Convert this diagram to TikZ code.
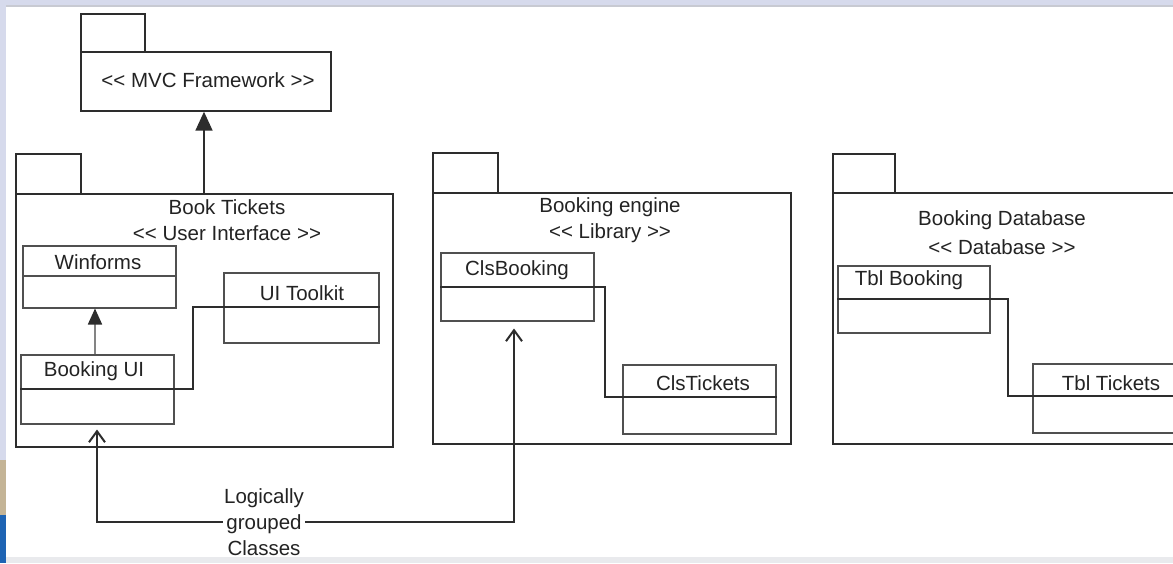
\documentclass[tikz,border=0pt]{standalone}
\usepackage{fontspec}
\setmainfont{Liberation Sans}
\usetikzlibrary{arrows.meta}
\definecolor{frameblue}{RGB}{214,218,236}
\definecolor{framegray}{RGB}{200,202,210}
\definecolor{tan}{RGB}{196,180,150}
\definecolor{deepblue}{RGB}{30,100,180}
\definecolor{ln}{RGB}{45,45,45}
\definecolor{clsln}{RGB}{80,80,80}
\definecolor{txt}{RGB}{35,35,35}
\newcommand{\stl}{<{}<}
\newcommand{\stg}{>{}>}
\begin{document}
\begin{tikzpicture}[x=1pt,y=-1pt,
  pkg/.style={draw=ln, line width=1.7pt, rectangle, anchor=north west, inner sep=0pt, fill=white},
  cls/.style={draw=clsln, line width=1.5pt, rectangle, anchor=north west, inner sep=0pt},
  divider/.style={draw=clsln, line width=1.3pt},
  lbl/.style={text=txt, inner sep=1pt, font=\fontsize{20.5}{26}\selectfont},
  conn/.style={draw=ln, line width=1.7pt},
  gen/.style={draw=ln, line width=1.7pt, -{Triangle[width=17pt,length=19pt,color=ln]}},
  dep/.style={draw=ln, line width=1.7pt, -{Straight Barb[width=16pt,length=11pt,line width=2pt]}}
]
\useasboundingbox (0,0) rectangle (1173,563);
\clip (0,0) rectangle (1173,563);
% frame of the screenshot
\fill[white] (0,0) rectangle (1173,563);
\fill[frameblue] (0,0) rectangle (1173,5);
\fill[framegray] (6,5) rectangle (1173,7);
\fill[frameblue] (0,0) rectangle (6,460);
\fill[tan] (0,460) rectangle (6,515);
\fill[deepblue] (0,515) rectangle (6,563);
\fill[framegray!40] (6,557) rectangle (1173,563);

% MVC Framework package
\node[pkg, minimum width=64pt, minimum height=39pt] (mvctab) at (80,13) {};
\node[pkg, minimum width=250pt, minimum height=59pt] (mvc) at (80,51) {};
\node[lbl] (mvct) at (208,80) {\stl{} MVC Framework \stg};

% Book Tickets package
\node[pkg, minimum width=65pt, minimum height=40pt] (bttab) at (15,153) {};
\node[pkg, minimum width=377pt, minimum height=253pt] (bt) at (15,193) {};
\node[lbl] (btt1) at (227,207) {Book Tickets};
\node[lbl] (btt2) at (227,233) {\stl{} User Interface \stg};

% Winforms
\node[cls, minimum width=153pt, minimum height=62pt] (wf) at (22,245) {};
\draw[divider] (wf.west |- 0,276) -- (wf.east |- 0,276);
\node[lbl] (wft) at (98,262) {Winforms};

% UI Toolkit
\node[cls, minimum width=155pt, minimum height=70pt] (uit) at (223,272) {};
\node[lbl] (uitt) at (302,293) {UI Toolkit};

% Booking UI
\node[cls, minimum width=153pt, minimum height=69pt] (bui) at (20,354) {};
\node[lbl] (buit) at (94,371) {Booking UI};

% connector Booking UI -- UI Toolkit (also divider lines)
\coordinate (c1) at (193,389);
\coordinate (c2) at (193,307);
\draw[conn] (bui.west |- c1) -- (c1) -- (c2) -- (uit.east |- c2);

% Booking UI -> Winforms generalisation
\draw[gen, draw=clsln!70, -{Triangle[width=14pt,length=16pt,color=ln]}] (bui.north -| 95,0) -- (wf.south -| 95,0);

% Book Tickets -> MVC
\draw[gen] (bt.north -| 204,0) -- (mvc.south -| 204,0);

% Booking engine package
\node[pkg, minimum width=65pt, minimum height=40pt] (betab) at (432,152) {};
\node[pkg, minimum width=358pt, minimum height=251pt] (be) at (432,192) {};
\node[lbl] (bet1) at (610,207) {Booking engine};
\node[lbl] (bet2) at (610,233) {\stl{} Library \stg};

% ClsBooking
\node[cls, minimum width=153pt, minimum height=68pt] (cb) at (440,252) {};
\node[lbl] (cbt) at (517,270) {ClsBooking};
% ClsTickets
\node[cls, minimum width=153pt, minimum height=69pt] (ct) at (622,364) {};
\node[lbl] (ctt) at (703,383) {ClsTickets};
\coordinate (c3) at (605,287);
\coordinate (c4) at (605,397);
\draw[conn] (cb.west |- c3) -- (c3) -- (c4) -- (ct.east |- c4);

% Booking Database package
\node[pkg, minimum width=62pt, minimum height=39pt] (bdtab) at (832,153) {};
\node[pkg, minimum width=360pt, minimum height=251pt] (bd) at (832,192) {};
\node[lbl] (bdt1) at (1002,220) {Booking Database};
\node[lbl] (bdt2) at (1002,247) {\stl{} Database \stg};

% Tbl Booking
\node[cls, minimum width=152pt, minimum height=67pt] (tb) at (837,265) {};
\node[lbl] (tbt) at (909,280) {Tbl Booking};
% Tbl Tickets
\node[cls, minimum width=160pt, minimum height=69pt] (tt) at (1032,363) {};
\node[lbl] (ttt) at (1111,383) {Tbl Tickets};
\coordinate (c5) at (1008,299);
\coordinate (c6) at (1008,396);
\coordinate (c7) at (1173,396);
\draw[conn] (tb.west |- c5) -- (c5) -- (c6) -- (c7);

% Logically grouped classes
\node[lbl, align=center] (lg) at (264,522) {Logically\\grouped\\Classes};
\coordinate (l1) at (97,522);
\coordinate (r1) at (514,522);
\draw[dep] (lg.west) -- (l1) -- ([yshift=-5pt]bui.south -| l1);
\draw[dep] (lg.east) -- (r1) -- ([yshift=-7pt]cb.south -| r1);
\end{tikzpicture}
\end{document}
